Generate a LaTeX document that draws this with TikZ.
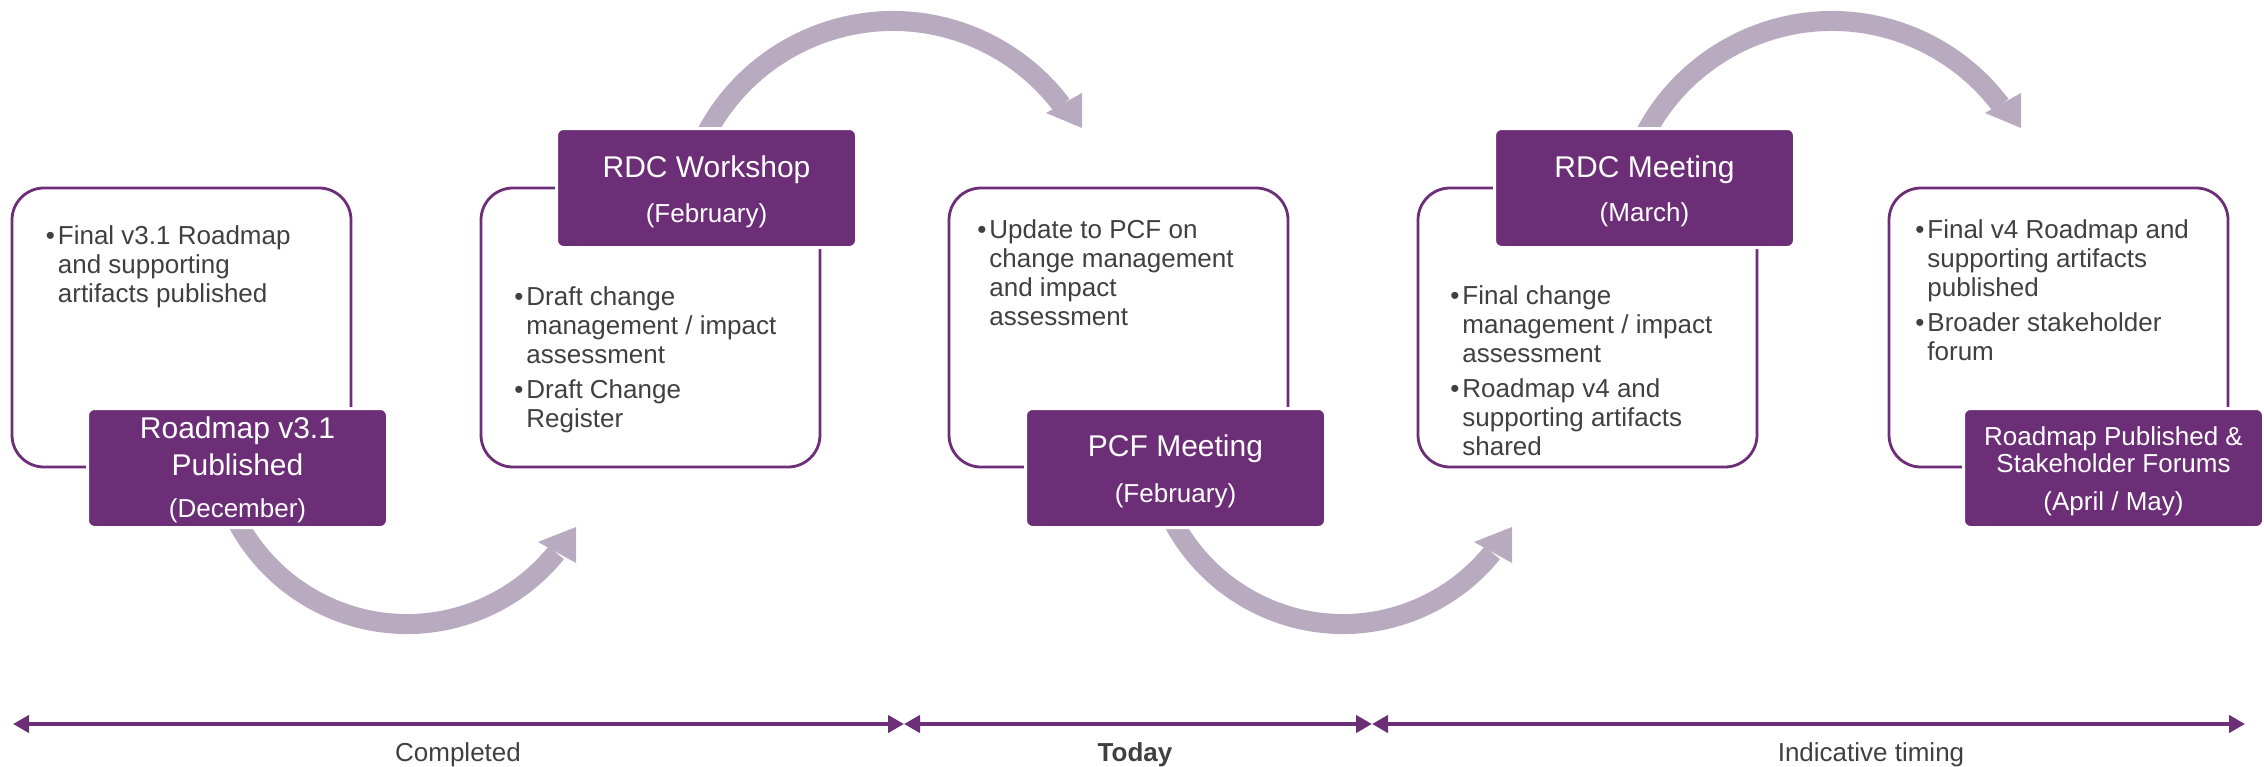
\documentclass[tikz,border=0pt]{standalone}
\usepackage{fontspec}
\setmainfont{Liberation Sans}
\usetikzlibrary{arrows.meta}
\definecolor{rpurple}{RGB}{108,46,119}
\definecolor{rarc}{RGB}{185,171,191}
\definecolor{rtext}{RGB}{64,64,64}
\newcommand{\bul}{\makebox[6pt][l]{•}}
\tikzset{
  card/.style={draw=rpurple, line width=1.4pt, rounded corners=16pt, minimum width=169.5pt, minimum height=139.5pt, inner sep=0pt, outer sep=0pt, fill=white},
  tag/.style={fill=rpurple, draw=white, line width=1.5pt, rounded corners=3.5pt, minimum width=150pt, minimum height=59.5pt, inner sep=0pt, outer sep=0pt},
  tagtitle/.style={anchor=base, text=white, font=\fontsize{15}{17.5}\selectfont, inner sep=0pt},
  tagsmall/.style={anchor=base, text=white, font=\fontsize{13}{15}\selectfont, inner sep=0pt},
  body/.style={anchor=base west, text=rtext, font=\fontsize{13}{14.5}\selectfont, inner sep=0pt},
  flow/.style={draw=rarc, line width=10pt},
  flowhead/.style={fill=rarc},
  timeline/.style={draw=rpurple, line width=2pt, {Triangle[length=8pt,width=8.5pt]}-{Triangle[length=8pt,width=8.5pt]}},
  tllabel/.style={anchor=base, text=rtext, font=\fontsize{13}{15}\selectfont, inner sep=0pt},
}
\begin{document}
\begin{tikzpicture}[x=0.5pt,y=-0.5pt]
\useasboundingbox (0,0) rectangle (2264,766);

% curved flow arrows
\begin{scope}
  \clip (0,528) rectangle (2264,766);
  \draw[flow] (407,432) ++(160:192) arc[start angle=160, end angle=39, radius=192];
  \draw[flow] (1343,432) ++(160:192) arc[start angle=160, end angle=39, radius=192];
\end{scope}
\begin{scope}
  \clip (0,0) rectangle (2264,127);
  \draw[flow] (893,232) ++(200:211) arc[start angle=200, end angle=323, radius=211];
  \draw[flow] (1832,232) ++(200:211) arc[start angle=200, end angle=323, radius=211];
\end{scope}
\fill[flowhead] (538,542) -- (576,527) -- (576,563) -- cycle;
\fill[flowhead] (1474,542) -- (1512,527) -- (1512,563) -- cycle;
\fill[flowhead] (1046,113) -- (1082,93) -- (1082,128) -- cycle;
\fill[flowhead] (1985,113) -- (2021,93) -- (2021,128) -- cycle;

% cards
\node[card] (b1) at (181.5,327.5) {};
\node[card] (b2) at (650.5,327.5) {};
\node[card] (b3) at (1118.5,327.5) {};
\node[card] (b4) at (1587.5,327.5) {};
\node[card] (b5) at (2058.5,327.5) {};

% body texts
\node[body] (t1) at (45.5,244) {\begin{tabular}[t]{@{}l@{}l@{}}\bul & Final v3.1 Roadmap\\ & and supporting\\ & artifacts published\end{tabular}};
\node[body] (t2) at (514,305) {\begin{tabular}[t]{@{}l@{}l@{}}\bul & Draft change\\ & management / impact\\ & assessment\\[3pt] \bul & Draft Change\\ & Register\end{tabular}};
\node[body] (t3) at (977,238) {\begin{tabular}[t]{@{}l@{}l@{}}\bul & Update to PCF on\\ & change management\\ & and impact\\ & assessment\end{tabular}};
\node[body] (t4) at (1450,304) {\begin{tabular}[t]{@{}l@{}l@{}}\bul & Final change\\ & management / impact\\ & assessment\\[3pt] \bul & Roadmap v4 and\\ & supporting artifacts\\ & shared\end{tabular}};
\node[body] (t5) at (1915,238) {\begin{tabular}[t]{@{}l@{}l@{}}\bul & Final v4 Roadmap and\\ & supporting artifacts\\ & published\\[3pt] \bul & Broader stakeholder\\ & forum\end{tabular}};

% tags
\node[tag] (l1) at (237.5,468) {};
\node[tag] (l2) at (706.5,188) {};
\node[tag] (l3) at (1175.5,468) {};
\node[tag] (l4) at (1644.5,188) {};
\node[tag] (l5) at (2113.5,468) {};

\node[tagtitle] (l1a) at (237.5,438) {Roadmap v3.1};
\node[tagtitle] (l1b) at (237.5,475) {Published};
\node[tagsmall] (l1c) at (237.5,517) {(December)};

\node[tagtitle] (l2a) at (706.5,177) {RDC Workshop};
\node[tagsmall] (l2b) at (706.5,222) {(February)};

\node[tagtitle] (l3a) at (1175.5,456) {PCF Meeting};
\node[tagsmall] (l3b) at (1175.5,502) {(February)};

\node[tagtitle] (l4a) at (1644.5,177) {RDC Meeting};
\node[tagsmall] (l4b) at (1644.5,221) {(March)};

\node[tagsmall] (l5a) at (2113.5,445) {Roadmap Published \&};
\node[tagsmall] (l5b) at (2113.5,472) {Stakeholder Forums};
\node[tagsmall] (l5c) at (2113.5,510) {(April / May)};

% timeline
\coordinate (tl0) at (13,724);
\coordinate (tl1) at (904,724);
\coordinate (tl2) at (1372,724);
\coordinate (tl3) at (2245,724);
\draw[timeline] (tl0) -- (tl1);
\draw[timeline] (tl1) -- (tl2);
\draw[timeline] (tl2) -- (tl3);
\node[tllabel] (c1) at (458,761) {Completed};
\node[tllabel, font=\fontsize{13}{15}\selectfont\bfseries] (c2) at (1135,761) {Today};
\node[tllabel] (c3) at (1871,761) {Indicative timing};
\end{tikzpicture}
\end{document}
